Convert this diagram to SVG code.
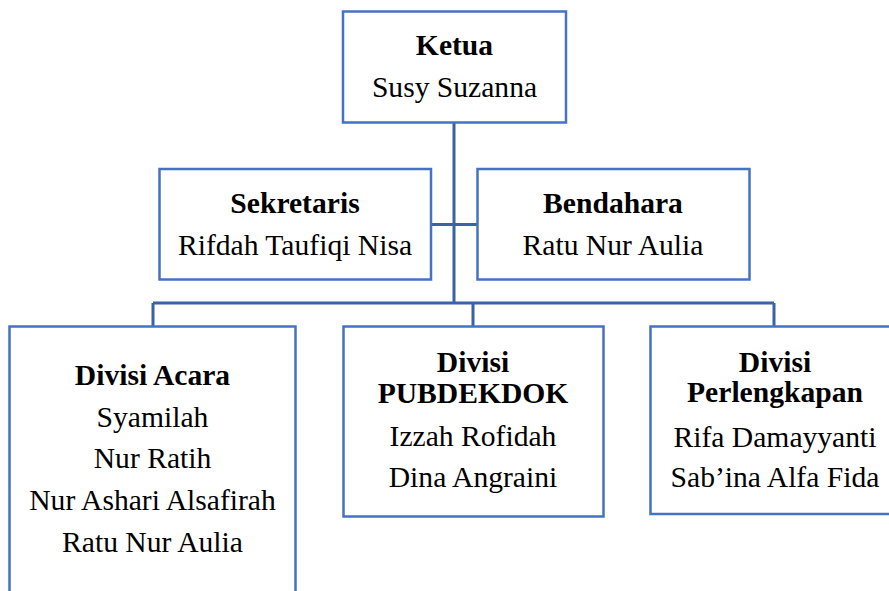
<svg xmlns="http://www.w3.org/2000/svg" width="889" height="591" viewBox="0 0 889 591">
<style>
.box{fill:#fff;stroke:#4472C4;stroke-width:2.5}
.con{fill:none;stroke:#3B62A6;stroke-width:3}
text{font-family:"Liberation Serif","Times New Roman",serif;font-size:29.6px;fill:#000;text-anchor:middle}
.b{font-weight:bold}
</style>
<rect width="889" height="591" fill="#fff"/>
<g id="connectors">
<path class="con" d="M454,122 V303 M431,224.5 H477 M153,303 H774 M153,303 V326 M473,303 V326 M774,303 V326"/>
</g>
<g id="ketua">
<rect class="box" x="343" y="11.5" width="223" height="111"/>
<text class="b" x="454.5" y="55">Ketua</text>
<text x="454.5" y="96.7">Susy Suzanna</text>
</g>
<g id="sekretaris">
<rect class="box" x="159.5" y="169" width="271.5" height="110.5"/>
<text class="b" x="295" y="212.7">Sekretaris</text>
<text x="295" y="255">Rifdah Taufiqi Nisa</text>
</g>
<g id="bendahara">
<rect class="box" x="477.5" y="169" width="272" height="110.5"/>
<text class="b" x="613" y="212.7">Bendahara</text>
<text x="613" y="254.5">Ratu Nur Aulia</text>
</g>
<g id="divisi-acara">
<rect class="box" x="9.5" y="326.5" width="286" height="280"/>
<text class="b" x="152.5" y="385">Divisi Acara</text>
<text x="152.5" y="426.7">Syamilah</text>
<text x="152.5" y="468">Nur Ratih</text>
<text x="152.5" y="510">Nur Ashari Alsafirah</text>
<text x="152.5" y="551.7">Ratu Nur Aulia</text>
</g>
<g id="divisi-pubdekdok">
<rect class="box" x="343.5" y="326.5" width="260" height="190"/>
<text class="b" x="473" y="371.7">Divisi</text>
<text class="b" x="473" y="403.3">PUBDEKDOK</text>
<text x="473" y="446">Izzah Rofidah</text>
<text x="473" y="487">Dina Angraini</text>
</g>
<g id="divisi-perlengkapan">
<rect class="box" x="650.5" y="326.5" width="250" height="187.5"/>
<text class="b" x="775" y="371.7">Divisi</text>
<text class="b" x="775" y="402">Perlengkapan</text>
<text x="775" y="446.7">Rifa Damayyanti</text>
<text x="775" y="487">Sab’ina Alfa Fida</text>
</g>
</svg>
